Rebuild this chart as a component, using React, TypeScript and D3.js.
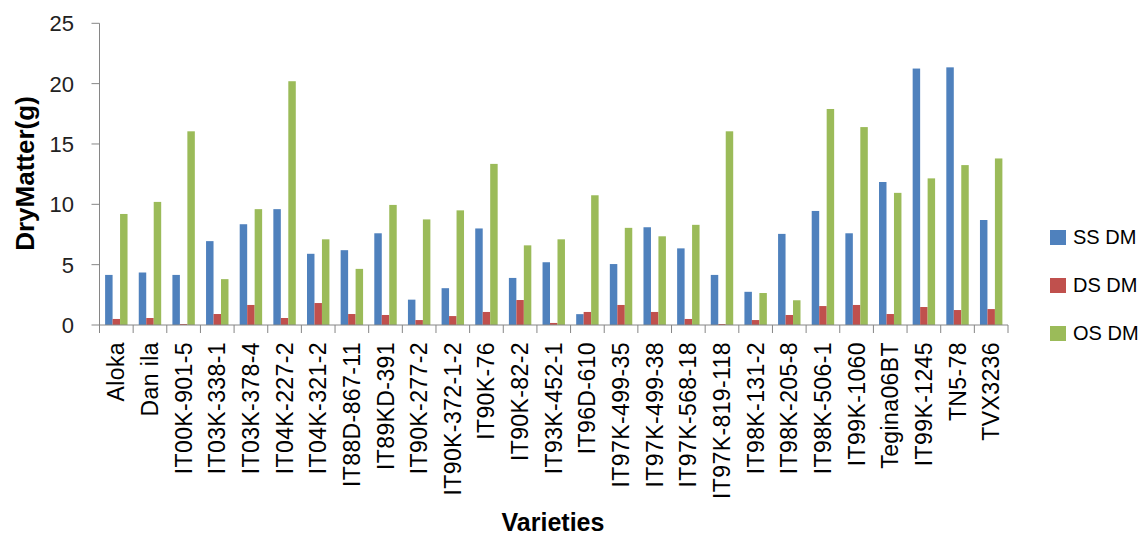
import React from "react";
import * as d3 from "d3";

const categories = [
  "Aloka", "Dan ila", "IT00K-901-5", "IT03K-338-1", "IT03K-378-4", "IT04K-227-2",
  "IT04K-321-2", "IT88D-867-11", "IT89KD-391", "IT90K-277-2", "IT90K-372-1-2",
  "IT90K-76", "IT90K-82-2", "IT93K-452-1", "IT96D-610", "IT97K-499-35",
  "IT97K-499-38", "IT97K-568-18", "IT97K-819-118", "IT98K-131-2", "IT98K-205-8",
  "IT98K-506-1", "IT99K-1060", "Tegina06BT", "IT99K-1245", "TN5-78", "TVX3236",
];

const ssDM = [4.15, 4.35, 4.15, 6.95, 8.35, 9.6, 5.9, 6.2, 7.6, 2.1, 3.05, 8.0, 3.9, 5.2, 0.9, 5.05, 8.1, 6.35, 4.15, 2.75, 7.55, 9.45, 7.6, 11.85, 21.25, 21.35, 8.7];
const dsDM = [0.5, 0.58, 0.08, 0.91, 1.66, 0.58, 1.82, 0.91, 0.83, 0.41, 0.74, 1.08, 2.07, 0.17, 1.08, 1.66, 1.08, 0.5, 0.08, 0.41, 0.83, 1.57, 1.66, 0.91, 1.49, 1.24, 1.32];
const osDM = [9.2, 10.2, 16.05, 3.8, 9.6, 20.2, 7.1, 4.65, 9.95, 8.75, 9.5, 13.35, 6.6, 7.1, 10.75, 8.05, 7.35, 8.3, 16.05, 2.65, 2.05, 17.9, 16.4, 10.95, 12.15, 13.25, 13.8];

const seriesNames = ["SS DM", "DS DM", "OS DM"];
const seriesColors = ["#4F81BD", "#C0504D", "#9BBB59"];
const yTicks = [0, 5, 10, 15, 20, 25];

const W = 1146;
const H = 537;
const left = 99.5;
const right = 1008;
const top = 23.3;
const bottom = 325;

export default function App() {
  const x = d3.scaleBand<string>().domain(categories).range([left, right]).paddingInner(0).paddingOuter(0);
  const x1 = d3.scaleBand<string>().domain(seriesNames).range([0, x.bandwidth()]).paddingInner(0).paddingOuter(0.75);
  const y = d3.scaleLinear().domain([0, 25]).range([bottom, top]);
  const seriesData = [ssDM, dsDM, osDM];
  const axisColor = "#868686";
  const font = "'Liberation Sans', Arial, sans-serif";

  return (
    <svg width={W} height={H} style={{ position: "absolute", left: 0, top: 0, background: "#fff" }} fontFamily={font}>
      {/* bars */}
      {seriesData.map((vals, si) =>
        vals.map((v, i) => (
          <rect
            key={`${si}-${i}`}
            x={(x(categories[i]) as number) + (x1(seriesNames[si]) as number)}
            y={y(v)}
            width={x1.bandwidth()}
            height={bottom - y(v)}
            fill={seriesColors[si]}
          />
        ))
      )}
      {/* y axis */}
      <line x1={left} x2={left} y1={top} y2={bottom} stroke={axisColor} strokeWidth={1} />
      {yTicks.map((t) => (
        <g key={t}>
          <line x1={left - 8} x2={left} y1={y(t)} y2={y(t)} stroke={axisColor} />
          <text x={74} y={y(t)} dy="0.36em" textAnchor="end" fontSize={22} fill="#222">
            {t}
          </text>
        </g>
      ))}
      {/* x axis */}
      <line x1={left} x2={right} y1={bottom} y2={bottom} stroke={axisColor} />
      {categories.map((c, i) => (
        <line
          key={`t${i}`}
          x1={x(c) as number}
          x2={x(c) as number}
          y1={bottom}
          y2={bottom + 8}
          stroke={axisColor}
        />
      ))}
      <line x1={right} x2={right} y1={bottom} y2={bottom + 8} stroke={axisColor} />
      {categories.map((c) => {
        const cx = (x(c) as number) + x.bandwidth() / 2;
        return (
          <text
            key={`l${c}`}
            transform={`translate(${cx + 8},${342}) rotate(-90)`}
            textAnchor="end"
            fontSize={23}
            letterSpacing={0.4}
            fill="#000"
          >
            {c}
          </text>
        );
      })}
      {/* axis titles */}
      <text
        transform={`translate(34,${173.5}) rotate(-90)`}
        textAnchor="middle"
        fontSize={26}
        fontWeight="bold"
        fill="#000"
      >
        DryMatter(g)
      </text>
      <text x={553} y={531} textAnchor="middle" fontSize={25} fontWeight="bold" fill="#000">
        Varieties
      </text>
      {/* legend */}
      {seriesNames.map((s, i) => (
        <g key={s} transform={`translate(1050,${230 + i * 48})`}>
          <rect x={0} y={0} width={16} height={15} fill={seriesColors[i]} />
          <text x={23} y={14} fontSize={20} fill="#000">
            {s}
          </text>
        </g>
      ))}
    </svg>
  );
}
